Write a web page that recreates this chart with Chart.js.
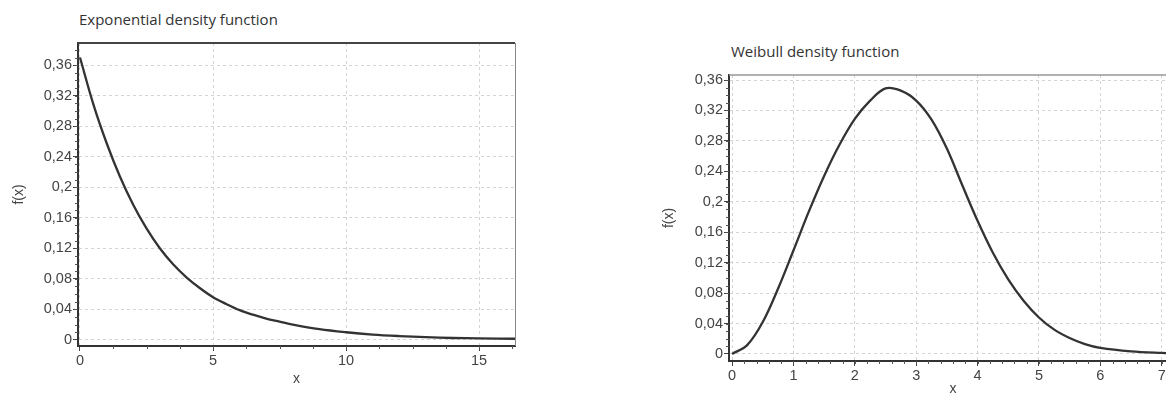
<!DOCTYPE html>
<html>
<head>
<meta charset="utf-8">
<script src="https://cdn.jsdelivr.net/npm/chart.js@4"></script>
<style>
  body { margin: 0; background: #fff; }
  #page { position: relative; width: 1166px; height: 394px; overflow: hidden; background: #fff; }
  .title { position: absolute; font-family: "Open Sans", sans-serif; font-size: 15px; color: #333; white-space: nowrap; }
  canvas { position: absolute; top: 0; }
</style>
</head>
<body>
<div id="page">
  <div class="title" style="left:79px; top:9px;">Exponential density function</div>
  <div class="title" style="left:731px; top:41px;">Weibull density function</div>
  <canvas id="exp-chart" width="520" height="394" style="left:0px;"></canvas>
  <canvas id="weib-chart" width="532" height="410" style="left:650px;"></canvas>
</div>
<script>
// values
const expX = [0, 0.5, 1, 1.5, 2, 2.5, 3, 3.5, 4, 4.5, 5, 5.5, 6, 6.5, 7, 7.5, 8, 9, 10, 11, 12, 13, 14, 15, 16.35];
const expY = [0.370, 0.309, 0.258, 0.214, 0.177, 0.146, 0.120, 0.099, 0.082, 0.068, 0.056, 0.047, 0.039, 0.033, 0.028, 0.024, 0.020, 0.014, 0.010, 0.007, 0.005, 0.0035, 0.0025, 0.002, 0.0015];

const weibX = [0, 0.25, 0.5, 0.75, 1, 1.25, 1.5, 1.75, 2, 2.25, 2.5, 2.75, 3, 3.25, 3.5, 3.75, 4, 4.25, 4.5, 4.75, 5, 5.25, 5.5, 5.75, 6, 6.5, 7, 7.25];
const weibY = [0, 0.012, 0.042, 0.086, 0.136, 0.187, 0.234, 0.275, 0.309, 0.333, 0.349, 0.346, 0.333, 0.308, 0.270, 0.222, 0.175, 0.133, 0.098, 0.070, 0.048, 0.032, 0.021, 0.013, 0.008, 0.0035, 0.0015, 0.001];

// tick labels
const yTicks = [0, 0.04, 0.08, 0.12, 0.16, 0.2, 0.24, 0.28, 0.32, 0.36];
const expXTicks = [0, 5, 10, 15];
const weibXTicks = [0, 1, 2, 3, 4, 5, 6, 7];

const tickFont = { family: 'Liberation Sans, Arial, sans-serif', size: 14.5 };
const titleFont = { family: 'Liberation Sans, Arial, sans-serif', size: 14 };

// comma decimals like "0,36"
function commaLabel(v) {
    return String(Number(v.toFixed(2))).replace('.', ',');
}

// small ticks between the labelled ones
const minorTicks = {
    id: 'minorTicks',
    afterDraw(chart, args, opts) {
        const { ctx, chartArea: a, scales: { x, y } } = chart;
        ctx.save();
        ctx.strokeStyle = '#555';
        ctx.lineWidth = 1;
        ctx.beginPath();
        for (let i = 1; i * opts.yStep <= y.max; i++) {
            const py = Math.round(y.getPixelForValue(i * opts.yStep)) + 0.5;
            ctx.moveTo(a.left - 3, py);
            ctx.lineTo(a.left, py);
        }
        for (let i = 1; i * opts.xStep <= x.max; i++) {
            const px = Math.round(x.getPixelForValue(i * opts.xStep)) + 0.5;
            ctx.moveTo(px, a.bottom);
            ctx.lineTo(px, a.bottom + 3);
        }
        ctx.stroke();
        ctx.restore();
    }
};

// top and right edge of the plot box
const frame = {
    id: 'frame',
    afterDraw(chart, args, opts) {
        const { ctx, chartArea: a } = chart;
        ctx.save();
        ctx.strokeStyle = opts.topColor;
        ctx.lineWidth = opts.topWidth;
        ctx.beginPath();
        ctx.moveTo(a.left, a.top);
        ctx.lineTo(a.right, a.top);
        ctx.stroke();
        ctx.strokeStyle = opts.rightColor;
        ctx.lineWidth = 1;
        ctx.beginPath();
        ctx.moveTo(a.right + 0.5, a.top);
        ctx.lineTo(a.right + 0.5, a.bottom);
        ctx.stroke();
        ctx.restore();
    }
};

function makeChart(id, xs, ys, opt) {
    const ctx = document.getElementById(id).getContext('2d');
    return new Chart(ctx, {
        type: 'line',
        data: {
            datasets: [{
                data: xs.map((v, i) => ({ x: v, y: ys[i] })),
                borderColor: '#333',
                borderWidth: 2.3,
                pointRadius: 0,
                fill: false,
                tension: 0.35
            }]
        },
        options: {
            responsive: false,
            animation: false,
            layout: { padding: { top: opt.top, right: opt.right, left: 0, bottom: 0 } },
            plugins: {
                legend: { display: false },
                tooltip: { enabled: false },
                minorTicks: { xStep: opt.xMinor, yStep: 0.01 },
                frame: opt.frame
            },
            scales: {
                x: {
                    type: 'linear',
                    min: opt.xMin,
                    max: opt.xMax,
                    afterBuildTicks: s => { s.ticks = opt.xTicks.map(v => ({ value: v })); },
                    afterFit: s => { s.height = opt.xHeight; },
                    ticks: {
                        font: tickFont,
                        color: '#444',
                        padding: 1,
                        maxRotation: 0,
                        callback: v => String(v)
                    },
                    grid: { color: '#d4d4d4', lineWidth: 1, tickLength: 5, tickColor: '#444' },
                    border: { display: true, color: '#333', width: 2, dash: [3, 3] },
                    title: { display: true, text: 'x', font: titleFont, color: '#444', padding: { top: opt.xTitlePad, bottom: opt.xTitlePad } }
                },
                y: {
                    type: 'linear',
                    min: opt.yMin,
                    max: opt.yMax,
                    afterBuildTicks: s => { s.ticks = yTicks.map(v => ({ value: v })); },
                    afterFit: s => { s.width = opt.yWidth; },
                    ticks: {
                        font: tickFont,
                        color: '#444',
                        padding: 1,
                        callback: v => commaLabel(v)
                    },
                    grid: { color: '#d4d4d4', lineWidth: 1, tickLength: 5, tickColor: '#444' },
                    border: { display: true, color: '#333', width: 2, dash: [3, 3] },
                    title: { display: true, text: 'f(x)', font: titleFont, color: '#444', padding: { top: 11, bottom: 11 } }
                }
            }
        },
        plugins: [minorTicks, frame]
    });
}

makeChart('exp-chart', expX, expY, {
    top: 43, right: 5, xHeight: 48, yWidth: 78, xTitlePad: 6,
    xMin: -0.075, xMax: 16.35, yMin: -0.008, yMax: 0.389,
    xTicks: expXTicks, xMinor: 1.25,
    frame: { topColor: '#444', topWidth: 2, rightColor: '#888' }
});

makeChart('weib-chart', weibX, weibY, {
    top: 75, right: 5, xHeight: 49, yWidth: 79, xTitlePad: 12,
    xMin: -0.05, xMax: 7.25, yMin: -0.0092, yMax: 0.3666,
    xTicks: weibXTicks, xMinor: 0.2,
    frame: { topColor: '#999', topWidth: 1.5, rightColor: '#999' }
});
</script>
</body>
</html>
